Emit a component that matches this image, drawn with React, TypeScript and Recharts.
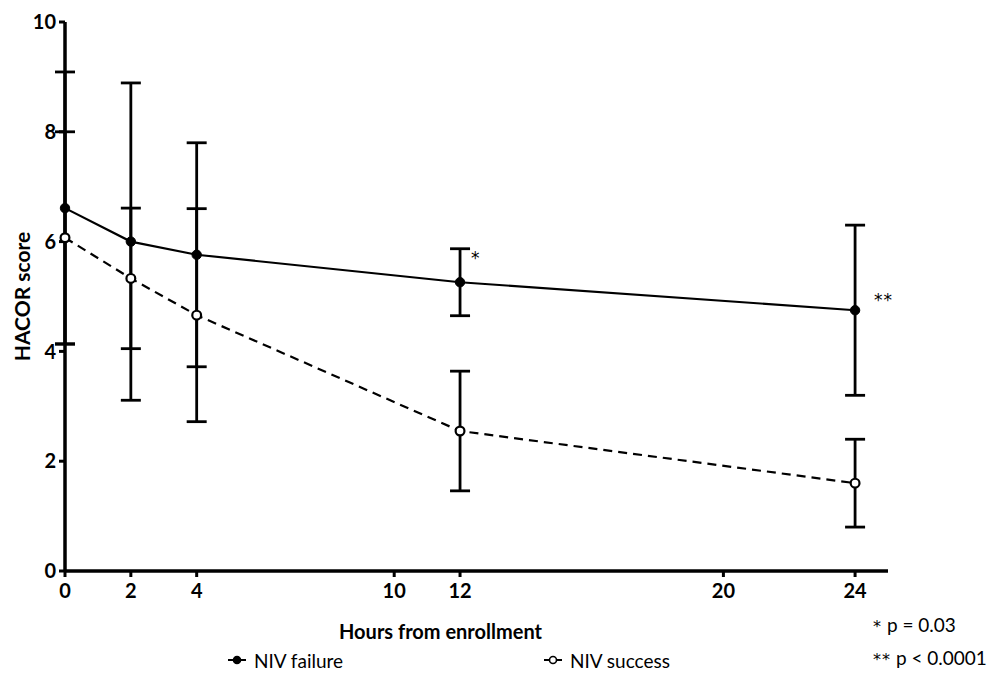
import React from "react";
import { LineChart, Line, XAxis, YAxis, ErrorBar, LabelList } from "recharts";

// HACOR score over time, mean ± SD
const hours = [0, 2, 4, 12, 24];
const failureMean = [6.61, 6.0, 5.76, 5.26, 4.75];
const failureSd = [2.48, 2.89, 2.04, 0.61, 1.55];
const successMean = [6.07, 5.33, 4.66, 2.55, 1.6];
const successSd = [1.93, 1.28, 1.94, 1.09, 0.8];
const significance = ["", "", "", "*", "**"];
const xTicks = [0, 2, 4, 10, 12, 20, 24];
const yTicks = [0, 2, 4, 6, 8, 10];
const seriesNames = ["NIV failure", "NIV success"];
const footnoteStars = ["*", "**"];
const footnoteText = ["p = 0.03", "p < 0.0001"];

const W = 991;
const H = 668;
const FONT = "Lato, 'Open Sans', sans-serif";
const STAR_FONT = "'DejaVu Sans', sans-serif";

const tickStyle = { fill: "#000", fontSize: 20, fontWeight: 700, fontFamily: FONT };

const SigLabel = (props: any) => {
  const { x, y, value, index } = props;
  if (!value) return null;
  const offs = index === 4 ? { dx: 19, dy: -10 } : { dx: 11, dy: -24 };
  return (
    <text
      x={x + offs.dx}
      y={y + offs.dy}
      textAnchor="start"
      dominantBaseline="central"
      fontSize={17}
      fontFamily={STAR_FONT}
      letterSpacing={1}
      fill="#000"
    >
      {value}
    </text>
  );
};

const LegendMarker = ({ open }: { open: boolean }) => (
  <svg width={20} height={10} style={{ display: "block" }}>
    <line x1={1} y1={5} x2={19} y2={5} stroke="#000" strokeWidth={2} />
    <circle cx={10} cy={5} r={3.5} fill={open ? "#fff" : "#000"} stroke="#000" strokeWidth={1.6} />
  </svg>
);

export default function App() {
  const data = hours.map((h, i) => ({
    hour: h,
    failure: failureMean[i],
    failureSd: failureSd[i],
    success: successMean[i],
    successSd: successSd[i],
    sig: significance[i],
  }));

  return (
    <div style={{ position: "relative", width: W, height: H, fontFamily: FONT }}>
      <LineChart width={W} height={H} data={data} margin={{ top: 14, right: 111, bottom: 65, left: 0 }}>
        <XAxis
          type="number"
          dataKey="hour"
          domain={[0, 25]}
          ticks={xTicks}
          interval={0}
          height={40}
          tick={tickStyle}
          tickSize={6}
          tickMargin={7}
          axisLine={{ stroke: "#000", strokeWidth: 3.5 }}
          tickLine={{ stroke: "#000", strokeWidth: 3 }}
          label={{
            content: ({ viewBox }: any) => (
              <text
                x={viewBox.x + viewBox.width / 2 - 36}
                y={viewBox.y + 68}
                textAnchor="middle"
                fontSize={20}
                fontWeight={700}
                fontFamily={FONT}
                fill="#000"
              >
                Hours from enrollment
              </text>
            ),
          }}
        />
        <YAxis
          type="number"
          domain={[0, 10]}
          ticks={yTicks}
          interval={0}
          width={57}
          tick={tickStyle}
          tickSize={6}
          tickMargin={3}
          axisLine={{ stroke: "#000", strokeWidth: 3.5 }}
          tickLine={{ stroke: "#000", strokeWidth: 3 }}
          label={{
            content: ({ viewBox }: any) => {
              const cx = 13;
              const cy = viewBox.y + viewBox.height / 2;
              return (
                <text
                  x={cx}
                  y={cy}
                  transform={`rotate(-90 ${cx} ${cy})`}
                  textAnchor="middle"
                  dominantBaseline="central"
                  fontSize={21}
                  fontWeight={700}
                  fontFamily={FONT}
                  fill="#000"
                >
                  HACOR score
                </text>
              );
            },
          }}
        />
        <Line
          dataKey="success"
          name={seriesNames[1]}
          stroke="#000"
          strokeWidth={2.2}
          strokeDasharray="9 6"
          dot={{ r: 4.4, fill: "#fff", stroke: "#000", strokeWidth: 2.2, strokeDasharray: "" }}
          activeDot={false}
          isAnimationActive={false}
        >
          <ErrorBar dataKey="successSd" width={10} stroke="#000" strokeWidth={2.8} direction="y" />
        </Line>
        <Line
          dataKey="failure"
          name={seriesNames[0]}
          stroke="#000"
          strokeWidth={2.2}
          dot={{ r: 4.7, fill: "#000", stroke: "#000", strokeWidth: 1 }}
          activeDot={false}
          isAnimationActive={false}
        >
          <ErrorBar dataKey="failureSd" width={10} stroke="#000" strokeWidth={2.8} direction="y" />
          <LabelList dataKey="sig" content={SigLabel} />
        </Line>
      </LineChart>

      {/* legend */}
      {seriesNames.map((name, i) => (
        <div
          key={name}
          style={{
            position: "absolute",
            left: i === 0 ? 219 : 535,
            top: 641,
            height: 22,
            display: "flex",
            alignItems: "center",
            gap: 7,
            fontSize: 19,
            color: "#000",
            whiteSpace: "nowrap",
          }}
        >
          <LegendMarker open={i === 1} />
          <span>{name}</span>
        </div>
      ))}

      {/* p-value notes */}
      {footnoteText.map((t, i) => (
        <div
          key={t}
          style={{
            position: "absolute",
            left: 865,
            top: 606 + i * 33,
            height: 22,
            lineHeight: "22px",
            fontSize: 19,
            color: "#000",
            whiteSpace: "nowrap",
          }}
        >
          <span style={{ fontFamily: STAR_FONT, fontSize: 16, letterSpacing: 1 }}>{footnoteStars[i]}</span> {t}
        </div>
      ))}
    </div>
  );
}
